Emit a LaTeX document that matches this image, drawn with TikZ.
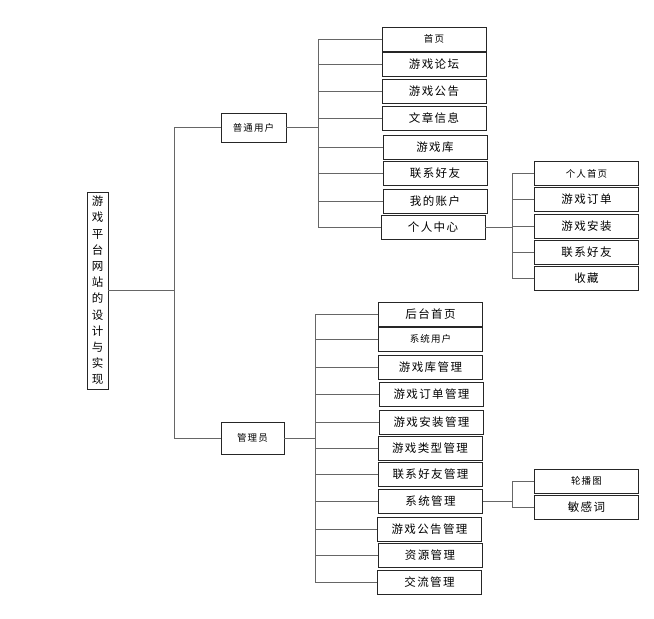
\documentclass[tikz,border=0pt]{standalone}
\usepackage{fontspec}
\setmainfont[LetterSpace=12]{Noto Sans CJK SC}
\usepackage{tikz}

\begin{document}
\begin{tikzpicture}[x=1pt,y=-1pt]
	\tikzstyle{every node}+=[inner sep=0pt]
	\tikzstyle{box}=[draw=black!85, line width=0.8pt, fill=white, minimum width=104pt, minimum height=24pt, font=\fontsize{11.5}{13}\selectfont]
	\tikzstyle{small}=[font=\fontsize{9.5}{11}\selectfont]
	\tikzstyle{link}=[draw=black!60, line width=0.9pt]
	\useasboundingbox (0,0) rectangle (654,619);
	% root
	\node [box, minimum width=21pt, minimum height=197pt, text width=12pt, align=center, font=\fontsize{11.5}{16.2}\selectfont] (root) at (97.5,290.5) {游\\戏\\平\\台\\网\\站\\的\\设\\计\\与\\实\\现};
	\node [box, small, minimum width=65pt, minimum height=29pt] (user) at (253.5,127.5) {普通用户};
	\node [box, small, minimum width=63pt, minimum height=32pt] (admin) at (252.5,438) {管理员};
	% normal user
	\node [box, small] (u1) at (434,39) {首页};
	\node [box] (u2) at (434,64) {游戏论坛};
	\node [box] (u3) at (434,91.5) {游戏公告};
	\node [box] (u4) at (434,118.5) {文章信息};
	\node [box] (u5) at (435,147) {游戏库};
	\node [box] (u6) at (435,173.5) {联系好友};
	\node [box] (u7) at (435,201) {我的账户};
	\node [box] (u8) at (433,227.5) {个人中心};
	% personal center
	\node [box, small] (p1) at (586.5,173.5) {个人首页};
	\node [box] (p2) at (586.5,199.5) {游戏订单};
	\node [box] (p3) at (586.5,226.5) {游戏安装};
	\node [box] (p4) at (586.5,252.5) {联系好友};
	\node [box] (p5) at (586.5,278.5) {收藏};
	% admin
	\node [box] (a1) at (430.5,314) {后台首页};
	\node [box, small] (a2) at (430.5,339) {系统用户};
	\node [box] (a3) at (430.5,367) {游戏库管理};
	\node [box] (a4) at (431.5,394) {游戏订单管理};
	\node [box] (a5) at (431.5,422) {游戏安装管理};
	\node [box] (a6) at (430,448) {游戏类型管理};
	\node [box] (a7) at (430.5,474.5) {联系好友管理};
	\node [box] (a8) at (430.5,501) {系统管理};
	\node [box] (a9) at (429.5,529) {游戏公告管理};
	\node [box] (a10) at (430,555) {资源管理};
	\node [box] (a11) at (429.5,582) {交流管理};
	% system
	\node [box, small] (s1) at (586.5,481) {轮播图};
	\node [box] (s2) at (586.5,507) {敏感词};
	% buses
	\coordinate (b0) at (174,290.5);
	\coordinate (bu) at (318,127.5);
	\coordinate (bp) at (512,227.5);
	\coordinate (ba) at (315,438);
	\coordinate (bs) at (512,501);
	\draw [link] (root.east) -- (b0);
	\draw [link] (b0) |- (user.west);
	\draw [link] (b0) |- (admin.west);
	\draw [link] (user.east) -- (bu);
	\draw [link] (bu) |- (u1.west);
	\draw [link] (bu) |- (u2.west);
	\draw [link] (bu) |- (u3.west);
	\draw [link] (bu) |- (u4.west);
	\draw [link] (bu) |- (u5.west);
	\draw [link] (bu) |- (u6.west);
	\draw [link] (bu) |- (u7.west);
	\draw [link] (bu) |- (u8.west);
	\draw [link] (u8.east) -- (bp);
	\draw [link] (bp) |- (p1.west);
	\draw [link] (bp) |- (p2.west);
	\draw [link] (bp) |- (p3.west);
	\draw [link] (bp) |- (p4.west);
	\draw [link] (bp) |- (p5.west);
	\draw [link] (admin.east) -- (ba);
	\draw [link] (ba) |- (a1.west);
	\draw [link] (ba) |- (a2.west);
	\draw [link] (ba) |- (a3.west);
	\draw [link] (ba) |- (a4.west);
	\draw [link] (ba) |- (a5.west);
	\draw [link] (ba) |- (a6.west);
	\draw [link] (ba) |- (a7.west);
	\draw [link] (ba) |- (a8.west);
	\draw [link] (ba) |- (a9.west);
	\draw [link] (ba) |- (a10.west);
	\draw [link] (ba) |- (a11.west);
	\draw [link] (a8.east) -- (bs);
	\draw [link] (bs) |- (s1.west);
	\draw [link] (bs) |- (s2.west);
\end{tikzpicture}
\end{document}
